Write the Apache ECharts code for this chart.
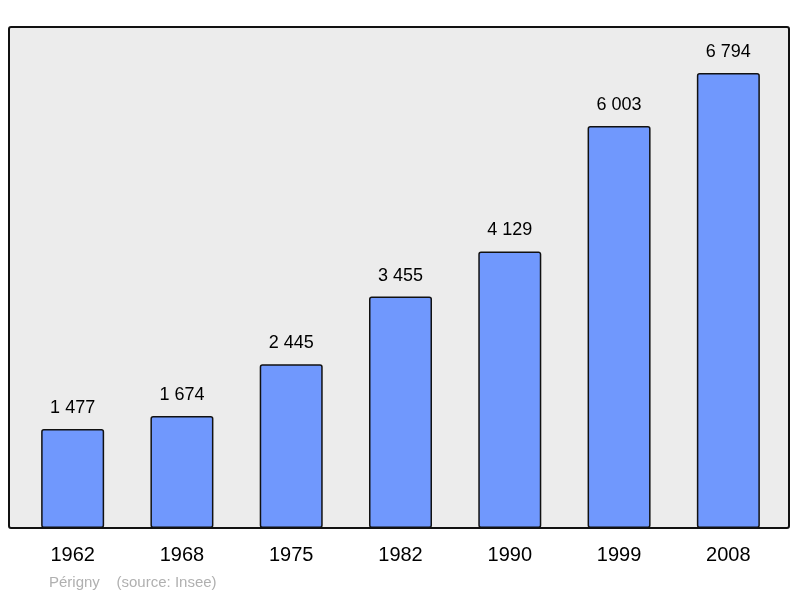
<!DOCTYPE html>
<html>
<head>
<meta charset="utf-8">
<script src="https://cdn.jsdelivr.net/npm/echarts@6/dist/echarts.min.js"></script>
<style>html,body{margin:0;padding:0;background:#fff}#main{width:800px;height:598px}</style>
</head>
<body>
<div id="main"></div>
<script>
// Population of Périgny by census year
const years = ["1962", "1968", "1975", "1982", "1990", "1999", "2008"];
const population = [1477, 1674, 2445, 3455, 4129, 6003, 6794];

const fmt = (v) => String(v).replace(/\B(?=(\d{3})+(?!\d))/g, " ");

let myChart = echarts.init(document.getElementById("main"));
myChart.setOption({
  animation: false,
  textStyle: { fontFamily: "Liberation Sans, Arial, sans-serif" },
  graphic: [
    {
      type: "rect", z: -10,
      shape: { x: 9, y: 27, width: 780, height: 501, r: 2 },
      style: { fill: "#ececec", stroke: "#111", lineWidth: 2 },
    },
    {
      type: "text", left: 49, top: 575,
      style: { text: "Périgny    (source: Insee)", fill: "#b0b0b0", fontSize: 15, fontFamily: "Liberation Sans, Arial, sans-serif" },
    },
  ],
  grid: { left: 18, top: 27, width: 765, height: 501 },
  xAxis: {
    type: "category",
    data: years,
    axisLine: { show: false },
    axisTick: { show: false },
    axisLabel: { color: "#000", fontSize: 20, margin: 17 },
  },
  yAxis: { type: "value", min: 0, max: 7480, show: false, splitLine: { show: false } },
  series: [
    {
      type: "bar",
      data: population,
      barWidth: 63,
      itemStyle: { color: "#7098fd", borderColor: "#111", borderWidth: 1.5, borderRadius: 2 },
      label: { show: true, position: "top", distance: 12, color: "#000", fontSize: 18, formatter: (p) => fmt(p.value) },
    },
  ],
});
</script>
</body>
</html>
